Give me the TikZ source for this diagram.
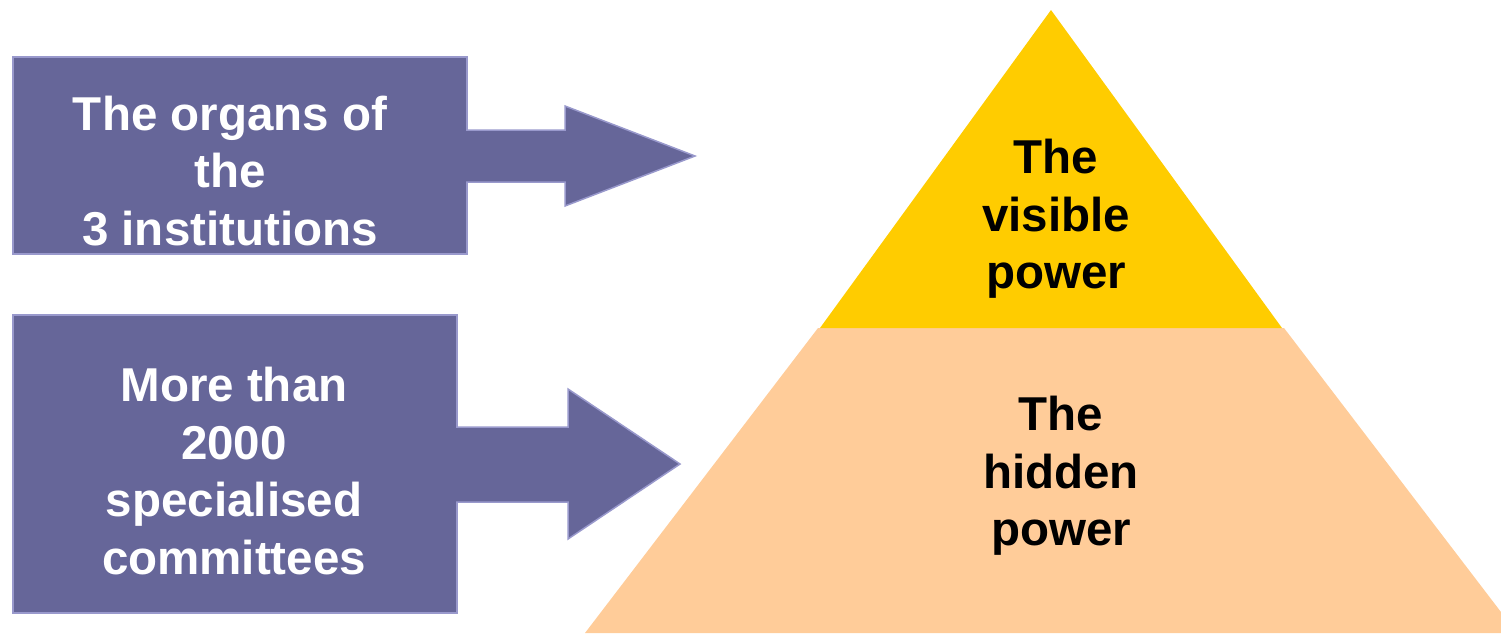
\documentclass[tikz,border=0pt]{standalone}
\usepackage{fontspec}
\setmainfont{Liberation Sans}
\definecolor{boxfill}{HTML}{666699}
\definecolor{boxline}{HTML}{9999CC}
\definecolor{topcol}{HTML}{FFCC00}
\definecolor{basecol}{HTML}{FFCC99}
\begin{document}
\begin{tikzpicture}[x=1pt,y=-1pt,
  boxstyle/.style={draw=boxline,line width=1.5pt,fill=boxfill},
  arrowstyle/.style={draw=boxline,line width=1.5pt,fill=boxfill,line join=miter},
  boxtext/.style={text=white,font=\fontsize{47.5}{57.5}\selectfont\bfseries,align=center,inner sep=0pt},
  pyrtext/.style={text=black,font=\fontsize{47.5}{57.5}\selectfont\bfseries,align=center,inner sep=0pt}]
\useasboundingbox (0,0) rectangle (1501,633);
% pyramid
\begin{scope}
\clip (0,0) rectangle (1501,633);
\fill[basecol] (818,328) -- (1284,328) -- (1517,633) -- (585,633) -- cycle;
\fill[topcol] (1051,10) -- (1282,328) -- (820,328) -- cycle;
\end{scope}
% boxes
\path[boxstyle] (13,57) rectangle (467,254);
\coordinate (b1e) at (467,156);
\path[arrowstyle] (466,130) -- (565,130) -- (565,106) -- (695,156) coordinate (t1) -- (565,206) -- (565,182) -- (466,182);
\path[boxstyle] (13,315) rectangle (457,613);
\coordinate (b2e) at (457,464);
\path[arrowstyle] (456,427) -- (568,427) -- (568,389) -- (680,464) coordinate (t2) -- (568,539) -- (568,502) -- (456,502);
% texts
\node[boxtext] (tx1) at (230,171) {The organs of\\the\\3 institutions};
\node[boxtext] (tx2) at (234,471) {More than\\2000\\specialised\\committees};
\node[pyrtext] (vis) at (1056,219) {The\\visible\\power};
\node[pyrtext] (hid) at (1061,476) {The\\hidden\\power};
\end{tikzpicture}
\end{document}
